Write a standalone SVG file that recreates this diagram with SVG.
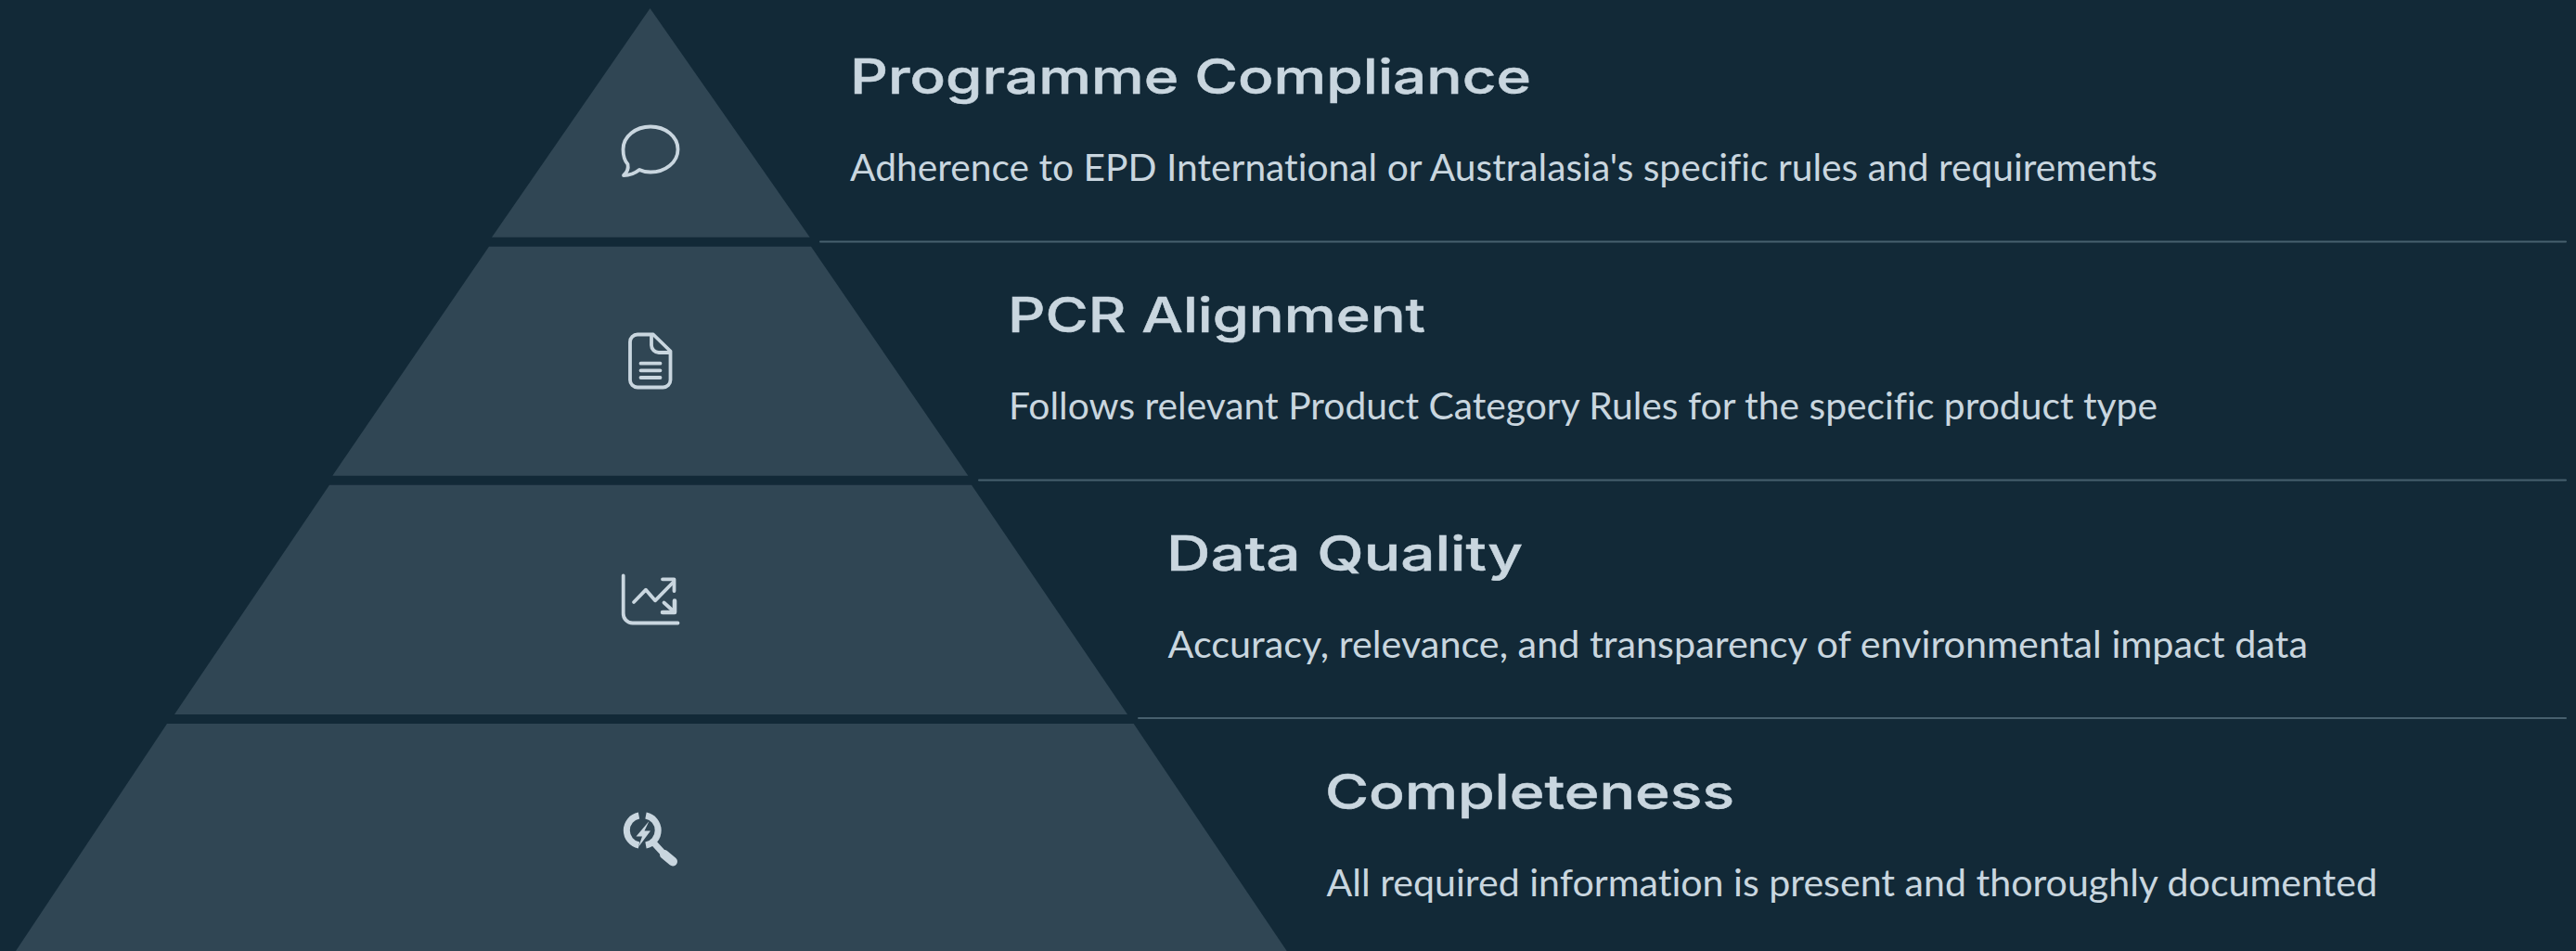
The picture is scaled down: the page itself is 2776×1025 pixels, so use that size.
<svg xmlns="http://www.w3.org/2000/svg" width="2776" height="1025" viewBox="0 0 2776 1025">
<style>
.tier{fill:#304654}
.title{font-family:"Inter","Liberation Sans",sans-serif;font-size:52px;font-weight:500;fill:#c9d6df;stroke:#c9d6df;stroke-width:.5}
.body{font-family:"Lato","Open Sans",sans-serif;font-size:41px;font-weight:400;fill:#c9d6df;font-variant-ligatures:none}
.icon{fill:none;stroke:#c9d6df;stroke-width:3.8;stroke-linecap:round;stroke-linejoin:round}
.ring{stroke-width:7;stroke-linecap:butt}
.shaft{stroke-width:7}
.grip{stroke-width:10}
.head{stroke-width:4.6}
.solid{fill:#c9d6df;stroke:none}
.rule{stroke:#47606e;stroke-width:2;stroke-linecap:round;fill:none}
</style>
<rect width="2776" height="1025" fill="#122937"/>
<g id="connectors">
<line class="rule" x1="884" y1="260.5" x2="2765" y2="260.5"/>
<line class="rule" x1="1055" y1="517.5" x2="2765" y2="517.5"/>
<line class="rule" x1="1227" y1="774" x2="2765" y2="774"/>
</g>
<g id="programme-compliance">
<polygon class="tier" points="700.5,9 872.7,255.7 530,255.7"/>
<path class="icon" d="M676.500 177C672 172 671.500 166 671.500 161C671.500 147 685 136.500 701 136.500C717 136.500 730.500 147 730.500 161C730.500 175 717 185.500 701 185.500C696 185.500 692 184.500 689 183C684 187 678 189 672 189C675.500 186 677.500 182 676.500 177Z"/>
<text class="title" x="916" y="100.700" textLength="734" lengthAdjust="spacingAndGlyphs">Programme Compliance</text>
<text class="body" x="916" y="194.500" textLength="1409" lengthAdjust="spacingAndGlyphs">Adherence to EPD International or Australasia's specific rules and requirements</text>
</g>
<g id="pcr-alignment">
<polygon class="tier" points="527,265.700 874,265.700 1043.300,512.700 358.300,512.700"/>
<path class="icon" d="M704 360.500H687A8 8 0 0 0 679 368.500V409.500A8 8 0 0 0 687 417.500H714.500A8 8 0 0 0 722.500 409.500V378.500L704 360.500ZM702 361V372A8 8 0 0 0 710 380H722"/>
<path class="icon" d="M690.500 391.700H711.500M690.500 399.300H711.500M690.500 407H711.500"/>
<text class="title" x="1086" y="357.700" textLength="450" lengthAdjust="spacingAndGlyphs">PCR Alignment</text>
<text class="body" x="1087" y="451.500" textLength="1238" lengthAdjust="spacingAndGlyphs">Follows relevant Product Category Rules for the specific product type</text>
</g>
<g id="data-quality">
<polygon class="tier" points="355,522.700 1047,522.700 1215,770 188,770"/>
<path class="icon" d="M671.700 620.500V661A10 10 0 0 0 681.700 671.500H730.500"/>
<path class="icon" d="M683 649L696 635.700L706 647.300L726 627"/>
<path class="icon" d="M714 624.300H726.500V637"/>
<path class="icon" d="M715.500 649.500L726 659"/>
<path class="icon head" d="M714 660H727V647.500"/>
<text class="title" x="1257" y="614.700" textLength="384" lengthAdjust="spacingAndGlyphs">Data Quality</text>
<text class="body" x="1258.500" y="708.500" textLength="1228.500" lengthAdjust="spacingAndGlyphs">Accuracy, relevance, and transparency of environmental impact data</text>
</g>
<g id="completeness">
<polygon class="tier" points="180,780 1221.700,780 1386.700,1025 17,1025"/>
<path class="icon ring" d="M688.500 879A16.300 16.300 0 0 0 688.500 911M696 879A16.300 16.300 0 0 1 696 911"/>
<path class="solid" d="M699.500 885L685.500 901.500H692L688 913L701 895.500H694.500Z"/>
<path class="icon shaft" d="M705 909L716 921"/>
<path class="icon grip" d="M716 921L725 928.500"/>
<text class="title" x="1428" y="871.700" textLength="441" lengthAdjust="spacingAndGlyphs">Completeness</text>
<text class="body" x="1429.500" y="965.500" textLength="1132.500" lengthAdjust="spacingAndGlyphs">All required information is present and thoroughly documented</text>
</g>
</svg>
